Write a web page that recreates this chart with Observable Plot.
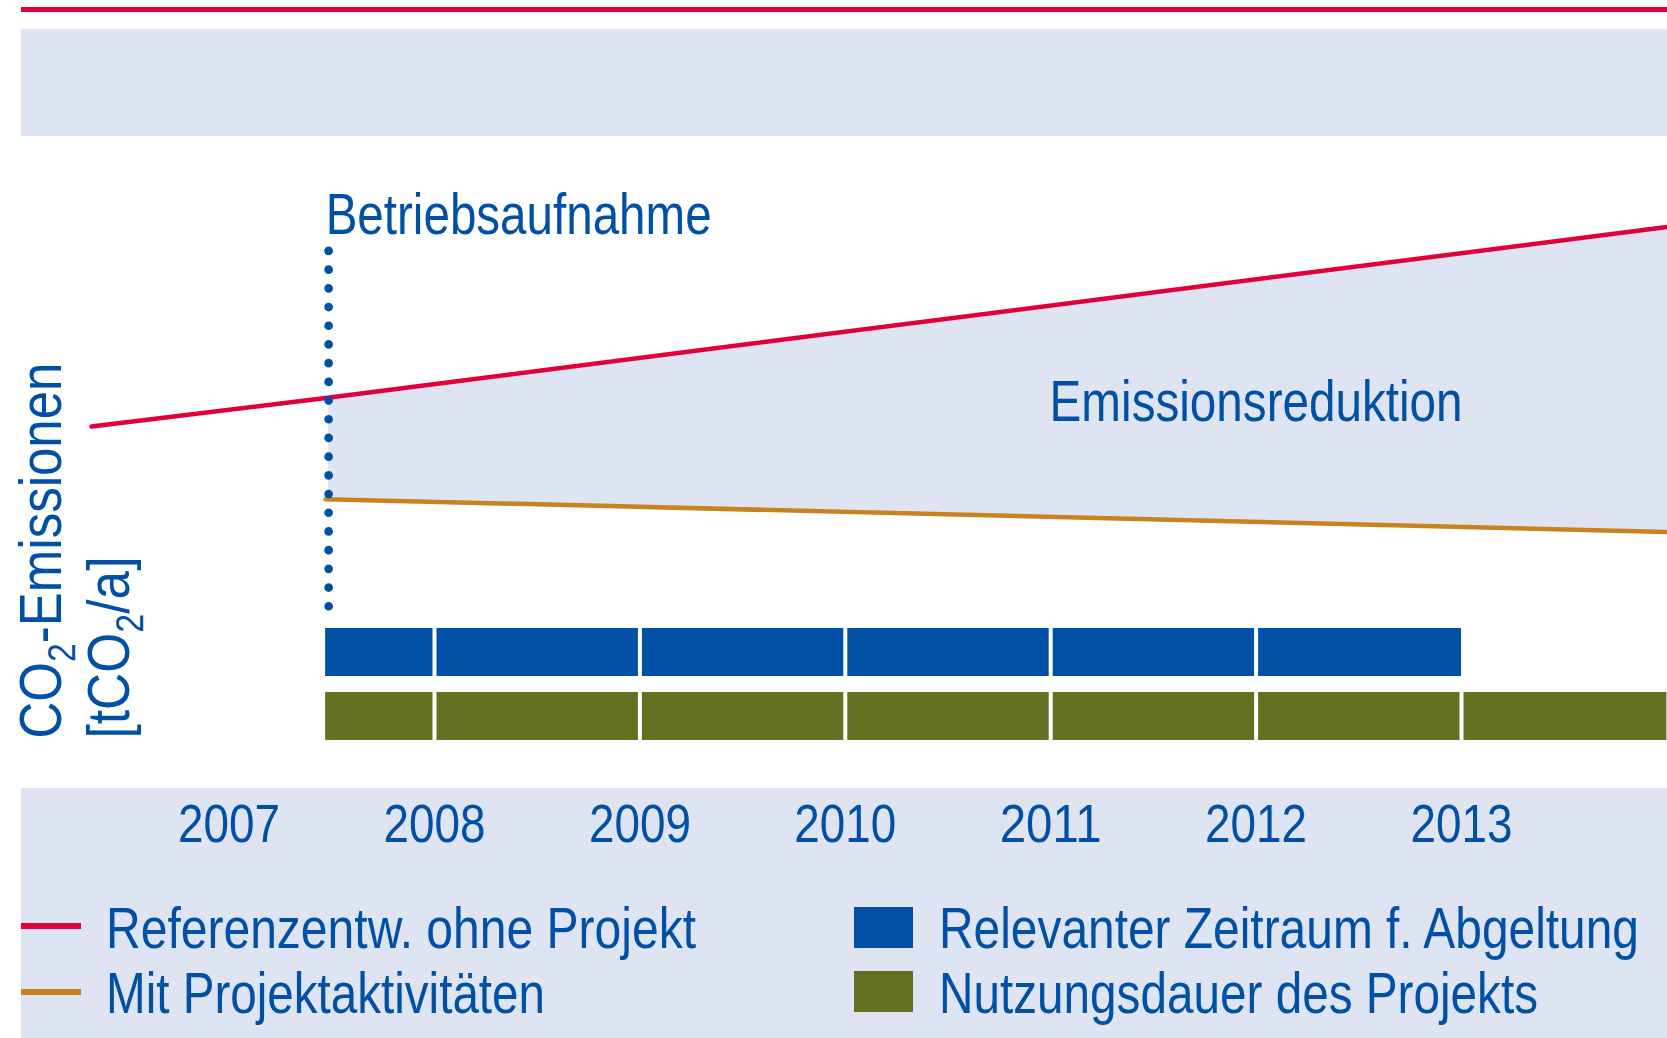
<!DOCTYPE html>
<html><head><meta charset="utf-8">
<script src="https://cdn.jsdelivr.net/npm/d3@7"></script>
<script src="https://cdn.jsdelivr.net/npm/@observablehq/plot@0.6"></script>
<style>
html,body{margin:0;padding:0;background:#fff;}
#root{position:relative;width:1667px;height:1038px;overflow:hidden;font-family:'Liberation Sans',Arial,sans-serif;color:#0050a5;}
.abs{position:absolute;}
.leg{position:absolute;font-size:58px;line-height:58px;white-space:nowrap;color:#0050a5;transform-origin:0 0;}
</style></head><body><div id="root"></div>
<script>
// ---- data ----
const years = [2007, 2008, 2009, 2010, 2011, 2012, 2013];
const projectStart = 2007.47;          // Betriebsaufnahme
const creditEnd = 2013;                // end of relevant period
const lifetimeEnd = 2014;              // end of project lifetime (visible)
const refYears = [2006.33, 2007.47, 2014];
const refValues = [55.6, 60.0, 86.25];   // Referenzentwicklung ohne Projekt
const projYears = [2007.47, 2014];
const projValues = [44.45, 39.4];        // Mit Projektaktivitäten
const rows = ["Relevanter Zeitraum f. Abgeltung", "Nutzungsdauer des Projekts"];
const rowEnds = [creditEnd, lifetimeEnd];
const lineLabels = ["Referenzentw. ohne Projekt", "Mit Projektaktivitäten"];

// ---- styles ----
const RED = "#e2003a", ORANGE = "#c8821e", BLUE = "#0050a5", GREEN = "#627020", BAND = "#dfe4f2";
const FONT = "'Liberation Sans',Arial,sans-serif";
const W = 1667;
const pxPerYear = 205.4, x2007 = 228.6;
const xDomain = [2007 - x2007 / pxPerYear, 2007 + (W - x2007) / pxPerYear];
// condensed look: target rendered widths of texts
const textWidths = {
  "Betriebsaufnahme": 386, "Emissionsreduktion": 413,
  "CO2-Emissionen": 376, "[tCO2/a]": 182,
  "Referenzentw. ohne Projekt": 590, "Mit Projektaktivitäten": 439,
  "Relevanter Zeitraum f. Abgeltung": 700, "Nutzungsdauer des Projekts": 599
};
const yearWidth = 102;

const root = document.getElementById("root");
function div(cls, css){const d=document.createElement("div");d.className=cls;Object.assign(d.style,css);root.appendChild(d);return d;}

// decorative header / footer bands
div("abs",{left:"21px",top:"7px",width:"1646px",height:"5px",background:RED});
div("abs",{left:"21px",top:"29px",width:"1646px",height:"107px",background:BAND});
div("abs",{left:"21px",top:"788px",width:"1646px",height:"250px",background:BAND});

// ---- Plot A: emissions ----
const refData = refYears.map((x,i)=>({x, y: refValues[i]}));
const projData = projYears.map((x,i)=>({x, y: projValues[i]}));
const areaData = projYears.map((x,i)=>({x, lo: projValues[i], hi: refValues[refYears.indexOf(x)]}));

const plotA = Plot.plot({
  width: W, height: 651,
  margin: 0,
  x: {domain: xDomain, axis: null},
  y: {domain: [0, 100], axis: null},
  style: {background: "transparent", overflow: "visible", fontFamily: FONT, color: BLUE},
  marks: [
    Plot.areaY(areaData, {x: "x", y1: "lo", y2: "hi", fill: BAND, dx: 3}),
    Plot.line(refData, {x: "x", y: "y", stroke: RED, strokeWidth: 4.5}),
    Plot.line(projData, {x: "x", y: "y", stroke: ORANGE, strokeWidth: 4.5}),
    Plot.ruleX([projectStart], {y1: 82.5, y2: 27.8, stroke: BLUE, strokeWidth: 8.7, strokeDasharray: "0 18.7", strokeLinecap: "round", dx: 3}),
    Plot.text(["Betriebsaufnahme"], {x: projectStart, y: 85.1, text: d=>d, textAnchor: "start", lineAnchor: "bottom", fontSize: 57, fill: BLUE}),
    Plot.text(["Emissionsreduktion"], {x: 2012, y: 56.4, text: d=>d, textAnchor: "middle", lineAnchor: "bottom", fontSize: 58, fill: BLUE}),
    Plot.text(["CO2-Emissionen"], {frameAnchor: "bottom-left", text: d=>d, rotate: -90, textAnchor: "start", lineAnchor: "bottom", fontSize: 59, fill: BLUE, dx: 60.5, dy: -50}),
    Plot.text(["[tCO2/a]"], {frameAnchor: "bottom-left", text: d=>d, rotate: -90, textAnchor: "start", lineAnchor: "bottom", fontSize: 59, fill: BLUE, dx: 128, dy: -50})
  ]
});
plotA.style.position = "absolute"; plotA.style.left = "0px"; plotA.style.top = "137px";
root.appendChild(plotA);

// subscripts
function subscript(el, parts){
  const ns = "http://www.w3.org/2000/svg";
  while (el.firstChild) el.removeChild(el.firstChild);
  let shifted = false;
  for (const [t, isSub] of parts) {
    const ts = document.createElementNS(ns, "tspan");
    ts.textContent = t;
    if (isSub) { ts.setAttribute("font-size", "39"); ts.setAttribute("dy", "14"); shifted = true; }
    else if (shifted) { ts.setAttribute("dy", "-14"); shifted = false; }
    el.appendChild(ts);
  }
}
plotA.querySelectorAll("text").forEach(t => {
  const key = t.textContent;
  if (textWidths[key]) { t.setAttribute("textLength", textWidths[key]); t.setAttribute("lengthAdjust", "spacingAndGlyphs"); }
  if (key === "CO2-Emissionen") subscript(t, [["CO"], ["2", true], ["-Emissionen"]]);
  else if (key === "[tCO2/a]") subscript(t, [["[tCO"], ["2", true], ["/a]"]]);
});

// ---- Plot B: periods + years ----
const segments = [];
rows.forEach((row, r) => {
  const bounds = [projectStart, ...years.filter(y => y > projectStart && y < rowEnds[r]), rowEnds[r]];
  for (let i = 0; i < bounds.length - 1; i++) segments.push({row, start: bounds[i], end: bounds[i+1]});
});
const gaps = segments.filter(s => s.start !== projectStart);

const plotB = Plot.plot({
  width: W, height: 250,
  marginTop: 8, marginBottom: 130, marginLeft: 0, marginRight: 0,
  x: {domain: xDomain},
  y: {domain: rows, type: "band", paddingInner: 0.25, paddingOuter: 0, axis: null},
  color: {domain: rows, range: [BLUE, GREEN]},
  style: {background: "transparent", overflow: "visible", fontFamily: FONT, color: BLUE},
  marks: [
    Plot.barX(segments, {x1: "start", x2: "end", y: "row", fill: "row"}),
    Plot.tickX(gaps, {x: "start", y: "row", stroke: "white", strokeWidth: 4}),
    Plot.axisX(years, {tickSize: 0, tickPadding: 64, fontSize: 53, tickFormat: d => String(d), fill: BLUE})
  ]
});
plotB.style.position = "absolute"; plotB.style.left = "0px"; plotB.style.top = "620px";
root.appendChild(plotB);
plotB.querySelectorAll("text").forEach(t => {
  if (/^\d{4}$/.test(t.textContent)) { t.setAttribute("textLength", yearWidth); t.setAttribute("lengthAdjust", "spacingAndGlyphs"); }
});

// ---- legend ----
const base = 0.8465 * 58;
function legText(txt, left, baseline){
  const d = div("leg", {left: left + "px", top: (baseline - base) + "px"});
  d.textContent = txt;
  const w = d.getBoundingClientRect().width;
  if (w > 0 && textWidths[txt]) d.style.transform = `scaleX(${textWidths[txt] / w})`;
}
div("abs",{left:"21px",top:"923px",width:"60px",height:"6px",background:RED});
div("abs",{left:"21px",top:"989px",width:"60px",height:"6px",background:ORANGE});
legText(lineLabels[0], 106, 948);
legText(lineLabels[1], 106, 1013);
div("abs",{left:"854px",top:"907px",width:"59px",height:"41px",background:BLUE});
div("abs",{left:"854px",top:"971px",width:"59px",height:"41px",background:GREEN});
legText(rows[0], 939, 948);
legText(rows[1], 939, 1013);
</script></body></html>
